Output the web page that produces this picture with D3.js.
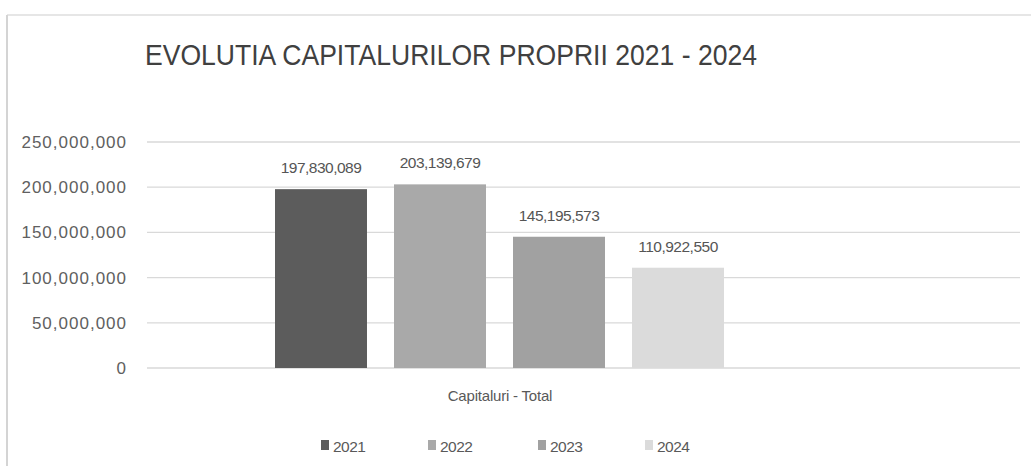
<!DOCTYPE html>
<html>
<head>
<meta charset="utf-8">
<script src="https://cdn.jsdelivr.net/npm/d3@7"></script>
<style>
  body { margin: 0; background: #fff; }
  text { font-family: "Liberation Sans", Arial, sans-serif; }
</style>
</head>
<body>
<svg id="chart" width="1031" height="466"></svg>
<script>
// chart data
const years = ["2021", "2022", "2023", "2024"];
const values = [197830089, 203139679, 145195573, 110922550];
const category = "Capitaluri - Total";
const yTicks = [0, 50000000, 100000000, 150000000, 200000000, 250000000];
const barColors = ["#5c5c5c", "#a9a9a9", "#a1a1a1", "#dbdbdb"];

const svg = d3.select("#chart");
const fmt = d3.format(",");

// frame (scan shows only top and left edge)
svg.append("line").attr("x1", 7).attr("x2", 1031).attr("y1", 15).attr("y2", 15)
    .attr("stroke", "#dedede").attr("stroke-width", 1.5);
svg.append("line").attr("x1", 7).attr("x2", 7).attr("y1", 15).attr("y2", 466)
    .attr("stroke", "#d4d4d4").attr("stroke-width", 2);

// title
svg.append("text")
    .attr("x", 145).attr("y", 65)
    .attr("font-size", 30)
    .attr("fill", "#404040")
    .attr("textLength", 612)
    .attr("lengthAdjust", "spacingAndGlyphs")
    .text("EVOLUTIA CAPITALURILOR PROPRII 2021 - 2024");

// scales
let yScale = d3.scaleLinear().domain([0, 250000000]).range([368, 142]);
let xScale = d3.scaleBand().domain(years).range([275, 724]).paddingInner(0.227).paddingOuter(0);

// gridlines
svg.append("g")
    .selectAll("line")
    .data(yTicks)
    .enter()
    .append("line")
    .attr("x1", 147).attr("x2", 1020)
    .attr("y1", d => yScale(d)).attr("y2", d => yScale(d))
    .attr("stroke", "#d9d9d9")
    .attr("stroke-width", 1.3);

// y axis labels
let yAxis = svg.append("g")
    .attr("transform", "translate(127, 0)")
    .call(d3.axisLeft(yScale).tickValues(yTicks).tickFormat(fmt).tickSize(0).tickPadding(0));
yAxis.select(".domain").remove();
yAxis.selectAll("text")
    .attr("font-family", "Liberation Sans, Arial, sans-serif")
    .attr("font-size", 17)
    .attr("letter-spacing", "1px")
    .attr("fill", "#606060");

// bars
svg.append("g")
    .selectAll("rect")
    .data(values)
    .enter()
    .append("rect")
    .attr("x", (d, i) => xScale(years[i]))
    .attr("y", d => yScale(d))
    .attr("width", xScale.bandwidth())
    .attr("height", d => yScale(0) - yScale(d))
    .attr("fill", (d, i) => barColors[i]);

// value labels
svg.append("g")
    .selectAll("text")
    .data(values)
    .enter()
    .append("text")
    .attr("x", (d, i) => xScale(years[i]) + xScale.bandwidth() / 2)
    .attr("y", d => yScale(d) - 16)
    .attr("text-anchor", "middle")
    .attr("font-size", 15.5)
    .attr("letter-spacing", "-0.5px")
    .attr("fill", "#555")
    .text(d => fmt(d));

// category label
svg.append("text")
    .attr("x", 500).attr("y", 401)
    .attr("text-anchor", "middle")
    .attr("font-size", 15)
    .attr("letter-spacing", "-0.2px")
    .attr("fill", "#595959")
    .text(category);

// legend
let legendX = d3.scaleOrdinal().domain(years).range([321, 428, 538, 645]);
let legend = svg.append("g");
years.forEach((y, i) => {
    legend.append("rect")
        .attr("x", legendX(y)).attr("y", 440)
        .attr("width", 8).attr("height", 10)
        .attr("fill", barColors[i]);
    legend.append("text")
        .attr("x", legendX(y) + 12).attr("y", 452)
        .attr("font-size", 15.5)
        .attr("letter-spacing", "-0.5px")
        .attr("fill", "#595959")
        .text(y);
});
</script>
</body>
</html>
